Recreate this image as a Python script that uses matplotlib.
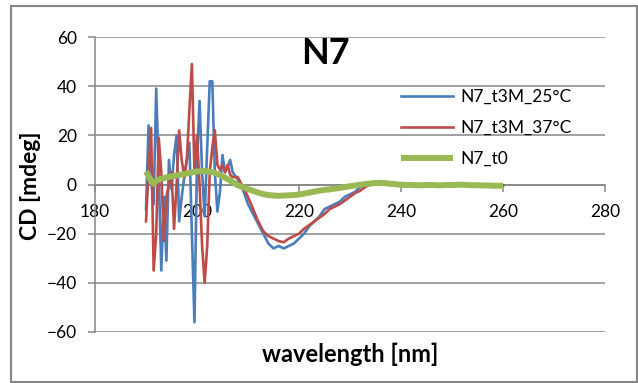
import numpy as np
import matplotlib
matplotlib.use("Agg")
import matplotlib.pyplot as plt
from matplotlib.patches import Rectangle

plt.rcParams['font.family'] = ['Lato', 'DejaVu Sans']

# Wavelength grid: 0.5 nm steps in the noisy far-UV part, 1 nm steps afterwards
wl_fine = np.arange(190.0, 207.5, 0.5)
wl_coarse = np.arange(208.0, 261.0, 1.0)
wavelength = np.concatenate([wl_fine, wl_coarse])

cd_25C = [
    -10, 24, 2, -8, 39, 5, -35, -5, -31, 10,
    -2, 12, 20, -15, -5, 3, 10, 17, -20, -56,
    10, 34, 5, -13, 15, 42, 42, 5, -11, -3,
    12, 5, 7, 10, 5,
    2, -2, -8, -12, -16, -20, -24, -26, -25, -26,
    -25, -24, -22, -20, -17, -15, -13, -10, -9, -8,
    -7, -5, -4, -3, -1, 0, 0.5, 1, 0.5, 0,
    0, 0.2, 0, -0.2, 0, 0, -0.3, 0, 0.2, 0,
    -0.2, 0, 0, -0.3, 0, 0.1, 0, -0.2, -0.3, 0,
    -0.2, -0.4, -0.3,
]

cd_37C = [
    -15, 5, 23, -35, -20, 19, 5, -23, -5, 0,
    5, -18, 0, 22, 10, 3, 10, 30, 49, 5,
    20, 0, -25, -40, -25, 5, 15, 22, 8, 6,
    8, 5, 8, 4, 3,
    3, -1, -5, -10, -15, -19, -21, -22, -23, -23.5,
    -22, -21, -20, -18, -16.5, -15, -13.5, -12, -10, -9,
    -8, -6.5, -5, -3.5, -2.5, -1, 0, 0.5, 0.5, 0,
    0, -0.2, 0, 0.2, 0, -0.2, 0, 0, -0.3, 0,
    0.1, 0, -0.2, 0, 0, -0.2, 0, -0.3, -0.2, 0,
    -0.3, -0.5, -0.4,
]

cd_t0 = [
    5.3, 3.5, 1.5, 0.3, 1.5, 2, 2.3, 2.6, 2.9, 3.1,
    3.3, 3.5, 3.7, 3.9, 4.1, 4.3, 4.5, 4.7, 4.9, 5.1,
    5.3, 5.4, 5.5, 5.5, 5.4, 5.2, 5, 4.7, 4.3, 3.9,
    3.4, 2.8, 2.2, 1.6, 1.0,
    -0.3, -1.1, -1.9, -2.6, -3.3, -3.9, -4.3, -4.5, -4.6, -4.5,
    -4.4, -4.3, -4.1, -3.7, -3.3, -2.9, -2.5, -2.2, -2, -1.7,
    -1.4, -1, -0.7, -0.4, -0.1, 0.2, 0.4, 0.6, 0.7, 0.5,
    0.3, 0.1, -0.1, -0.2, -0.2, -0.3, -0.3, -0.2, -0.2, -0.3,
    -0.3, -0.2, -0.2, -0.1, -0.1, -0.2, -0.3, -0.3, -0.4, -0.4,
    -0.5, -0.5, -0.5,
]

series_labels = ['N7_t3M_25°C', 'N7_t3M_37°C', 'N7_t0']
x_ticks = [180, 200, 220, 240, 260, 280]
y_ticks = [-60, -40, -20, 0, 20, 40, 60]

W, H = 638, 383
fig = plt.figure(figsize=(W / 100, H / 100), dpi=100)
fig.patch.set_facecolor('white')

# chart-area border
fig.add_artist(Rectangle((10.5 / W, 1 - 381.5 / H), 626 / W, 375.5 / H,
                         transform=fig.transFigure, fill=False,
                         edgecolor='#868686', linewidth=1.5))

left, right, top, bottom = 95, 605, 37, 332
ax = fig.add_axes([left / W, 1 - bottom / H, (right - left) / W, (bottom - top) / H])

grid_col = '#868686'
ax.set_xlim(180, 280)
ax.set_ylim(-60, 60)
ax.set_xticks(x_ticks)
ax.set_yticks(y_ticks)
ax.yaxis.grid(True, color=grid_col, linewidth=1.1)
ax.set_axisbelow(True)

for s in ['top', 'right']:
    ax.spines[s].set_visible(False)
ax.spines['left'].set_color(grid_col)
ax.spines['left'].set_linewidth(1.1)
ax.spines['bottom'].set_position(('data', 0))
ax.spines['bottom'].set_color(grid_col)
ax.spines['bottom'].set_linewidth(1.1)

ax.tick_params(axis='both', direction='out', length=5, width=1.1, color=grid_col,
               labelsize=12.5, labelcolor='black')
ax.tick_params(axis='y', pad=8)
ax.tick_params(axis='x', pad=9)

ax.plot(wavelength, cd_25C, color='#4A7EBB', linewidth=1.9, label=series_labels[0], zorder=3)
ax.plot(wavelength, cd_37C, color='#BE4B48', linewidth=1.9, label=series_labels[1], zorder=3)
ax.plot(wavelength, cd_t0, color='#98B954', linewidth=4.3, label=series_labels[2], zorder=4,
        solid_capstyle='butt')

fig.text(325 / W, 1 - 53 / H, 'N7', fontsize=26, fontweight='bold',
         ha='center', va='center')
fig.text(31 / W, 1 - 186 / H, 'CD [mdeg]', fontsize=16.5, fontweight='bold',
         rotation=90, ha='center', va='center')
fig.text(350 / W, 1 - 354 / H, 'wavelength [nm]', fontsize=17, fontweight='bold',
         ha='center', va='center')

leg = ax.legend(loc='upper left', bbox_to_anchor=(401 / W, 1 - 89 / H),
                bbox_transform=fig.transFigure, frameon=False, fontsize=12.5,
                handlelength=3.0, handletextpad=0.4, labelspacing=0.87,
                borderpad=0, borderaxespad=0)

fig.savefig('out.png', dpi=100, facecolor='white')
